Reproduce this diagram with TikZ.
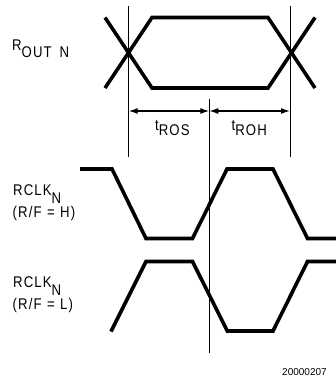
\documentclass[tikz,border=0pt]{standalone}
\usepackage{fontspec}
\setmainfont{Liberation Sans}[FakeStretch=0.85,LetterSpace=7]
\newfontfamily\numfont{Liberation Sans}
\usetikzlibrary{arrows.meta}
\tikzset{
  wave/.style={line width=3.6pt},
  guide/.style={line width=0.9pt},
  dim/.style={line width=1.3pt,{Latex[length=9pt,width=6pt]}-{Latex[length=9pt,width=6pt]}},
  lbl/.style={anchor=base west,inner sep=0pt,font=\fontsize{15.5}{18}\selectfont},
}
\newcommand{\lowsub}[2]{\raisebox{-#1}{#2}}
\begin{document}
\begin{tikzpicture}[x=1pt,y=-1pt]
\useasboundingbox (0,0) rectangle (336,383);
% eye diagram
\draw[wave] (105,88) -- (152,17.5) -- (268,17.5) -- (315,88);
\draw[wave] (105,17.5) -- (152,88) -- (268,88) -- (315,17.5);
% guide lines
\coordinate (l1) at (128.7,6);  \coordinate (l2) at (128.7,157);
\coordinate (r1) at (290,6);    \coordinate (r2) at (290,157);
\coordinate (m1) at (209.3,99); \coordinate (m2) at (209.3,353);
\draw[guide] (l1) -- (l2);
\draw[guide] (r1) -- (r2);
\draw[guide] (m1) -- (m2);
% dimension arrows
\coordinate (al) at (128.7,111); \coordinate (am) at (209.3,111); \coordinate (ar) at (290,111);
\draw[dim] (al) -- (am);
\draw[dim] (am) -- (ar);
% clocks
\draw[wave] (80,169) -- (112,169) -- (146,238.5) -- (192.5,238.5) -- (227,169) -- (273,169) -- (307.5,238.5) -- (336,238.5);
\draw[wave] (111,331.5) -- (146,261.5) -- (192.5,261.5) -- (227.3,331) -- (273,331) -- (307.5,261.5) -- (336,261.5);
% labels
\node[lbl] (rout) at (12,50) {R\lowsub{7.7pt}{OUT\hspace{8pt}N}};
\node[lbl] (tros) at (155,130) {t\lowsub{5pt}{ROS}};
\node[lbl] (troh) at (231.5,130) {t\lowsub{5pt}{ROH}};
\node[lbl] (ck1) at (13,195.5) {RCLK\lowsub{7.5pt}{N}};
\node[lbl] (rf1) at (12.5,217.5) {(R/F\hspace{5.5pt}=\hspace{5.5pt}H)};
\node[lbl] (ck2) at (13,287.8) {RCLK\lowsub{7.5pt}{N}};
\node[lbl] (rf2) at (12.5,309.8) {(R/F\hspace{5.5pt}=\hspace{5.5pt}L)};
\node[anchor=base west,inner sep=0pt,font=\numfont\fontsize{10}{12}\selectfont] (code) at (282,375) {20000207};
\end{tikzpicture}
\end{document}
